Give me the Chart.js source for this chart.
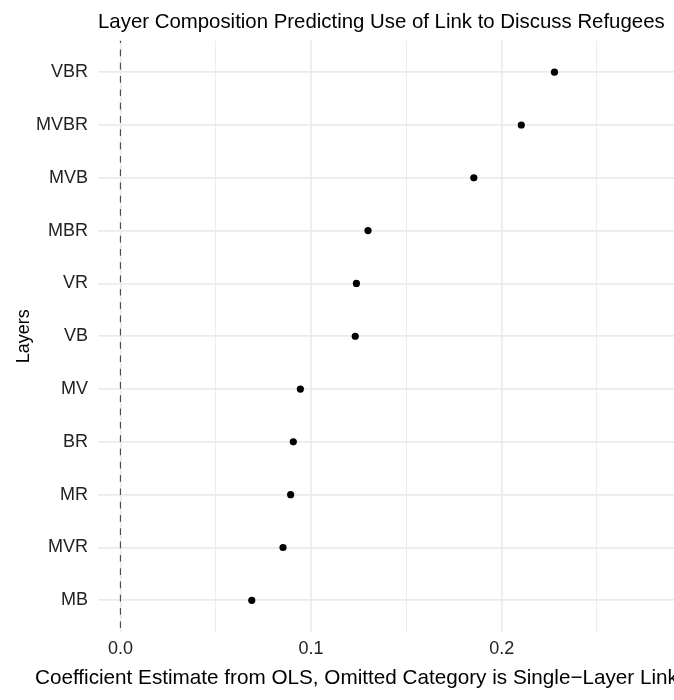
<!DOCTYPE html>
<html>
<head>
<meta charset="utf-8">
<script src="https://cdn.jsdelivr.net/npm/chart.js@4/dist/chart.umd.min.js"></script>
<style>
  html, body { margin: 0; padding: 0; background: #fff; }
  #layerChart { display: block; }
</style>
</head>
<body>
<canvas id="layerChart" width="674" height="700"></canvas>
<script>
// layer combinations, listed bottom to top
const categories = ['MB', 'MVR', 'MR', 'BR', 'MV', 'VB', 'VR', 'MBR', 'MVB', 'MVBR', 'VBR'];
// OLS coefficient estimates for each combination
const estimates = [0.0689, 0.0853, 0.0893, 0.0907, 0.0944, 0.1232, 0.1238, 0.1299, 0.1854, 0.2103, 0.2277];
const xTickValues = [0, 0.05, 0.1, 0.15, 0.2, 0.25];
const xTickLabels = ['0.0', '', '0.1', '', '0.2', ''];
const referenceLine = 0;

const chartTitle = 'Layer Composition Predicting Use of Link to Discuss Refugees';
const xTitle = 'Coefficient Estimate from OLS, Omitted Category is Single\u2212Layer Link';
const yTitle = 'Layers';

const FONT = "'Liberation Sans', Arial, Helvetica, sans-serif";

// x axis caption is wider than the panel, so draw it by hand instead of
// letting the scale title squeeze it into the chart area
const captionPlugin = {
    id: 'caption',
    afterDraw(chart) {
        const c = chart.ctx;
        c.save();
        c.font = '20.7px ' + FONT;
        c.fillStyle = '#000';
        c.textAlign = 'left';
        c.textBaseline = 'middle';
        c.fillText(xTitle, chart.chartArea.left - 63, 678);
        c.restore();
    }
};

const yIndex = categories.map((c, i) => i + 1);

new Chart(document.getElementById('layerChart'), {
    type: 'scatter',
    data: {
        datasets: [
            {
                label: 'Estimate',
                data: categories.map((c, i) => ({ x: estimates[i], y: yIndex[i] })),
                backgroundColor: '#000',
                borderWidth: 0,
                pointRadius: 3.6,
                order: 0
            },
            {
                // dashed zero line, drawn top to bottom
                type: 'line',
                label: 'zero',
                data: [{ x: referenceLine, y: categories.length + 0.6 }, { x: referenceLine, y: 0.4 }],
                borderColor: '#444',
                borderWidth: 1.1,
                borderDash: [6.7, 6.6],
                borderDashOffset: 4.3,
                pointRadius: 0,
                order: 1
            }
        ]
    },
    options: {
        responsive: false,
        animation: false,
        devicePixelRatio: 1,
        layout: { autoPadding: false, padding: 0 },
        plugins: {
            legend: { display: false },
            tooltip: { enabled: false },
            title: {
                display: true,
                text: chartTitle,
                fullSize: false,
                align: 'start',
                color: '#000',
                font: { family: FONT, size: 20.4, weight: 'normal' },
                padding: { top: 10, bottom: 6 }
            }
        },
        scales: {
            x: {
                type: 'linear',
                min: -0.01175,
                max: 0.2904,
                afterBuildTicks: (s) => { s.ticks = xTickValues.map(v => ({ value: v })); },
                afterFit: (s) => { s.height = 68; },
                border: { display: false },
                grid: {
                    color: '#ebebeb',
                    drawTicks: false,
                    lineWidth: (ctx) => {
                        const v = ctx.tick ? ctx.tick.value : 0;
                        return Math.abs(v * 10 - Math.round(v * 10)) < 1e-6 ? 1.7 : 0.9;
                    }
                },
                ticks: {
                    color: '#222',
                    padding: 6,
                    font: { family: FONT, size: 18 },
                    callback: (v) => {
                        const i = xTickValues.findIndex(t => Math.abs(t - v) < 1e-9);
                        return i >= 0 ? xTickLabels[i] : '';
                    }
                }
            },
            y: {
                type: 'linear',
                min: 0.4,
                max: categories.length + 0.6,
                afterBuildTicks: (s) => { s.ticks = yIndex.map(v => ({ value: v })); },
                afterFit: (s) => { s.width = 98; },
                border: { display: false },
                grid: { color: '#ebebeb', lineWidth: 1.7, drawTicks: false },
                ticks: {
                    color: '#222',
                    padding: 10,
                    font: { family: FONT, size: 18 },
                    callback: (v) => categories[Math.round(v) - 1]
                },
                title: {
                    display: true,
                    text: yTitle,
                    color: '#000',
                    font: { family: FONT, size: 18 },
                    padding: { top: 13, bottom: 13 }
                }
            }
        }
    },
    plugins: [captionPlugin]
});
</script>
</body>
</html>
